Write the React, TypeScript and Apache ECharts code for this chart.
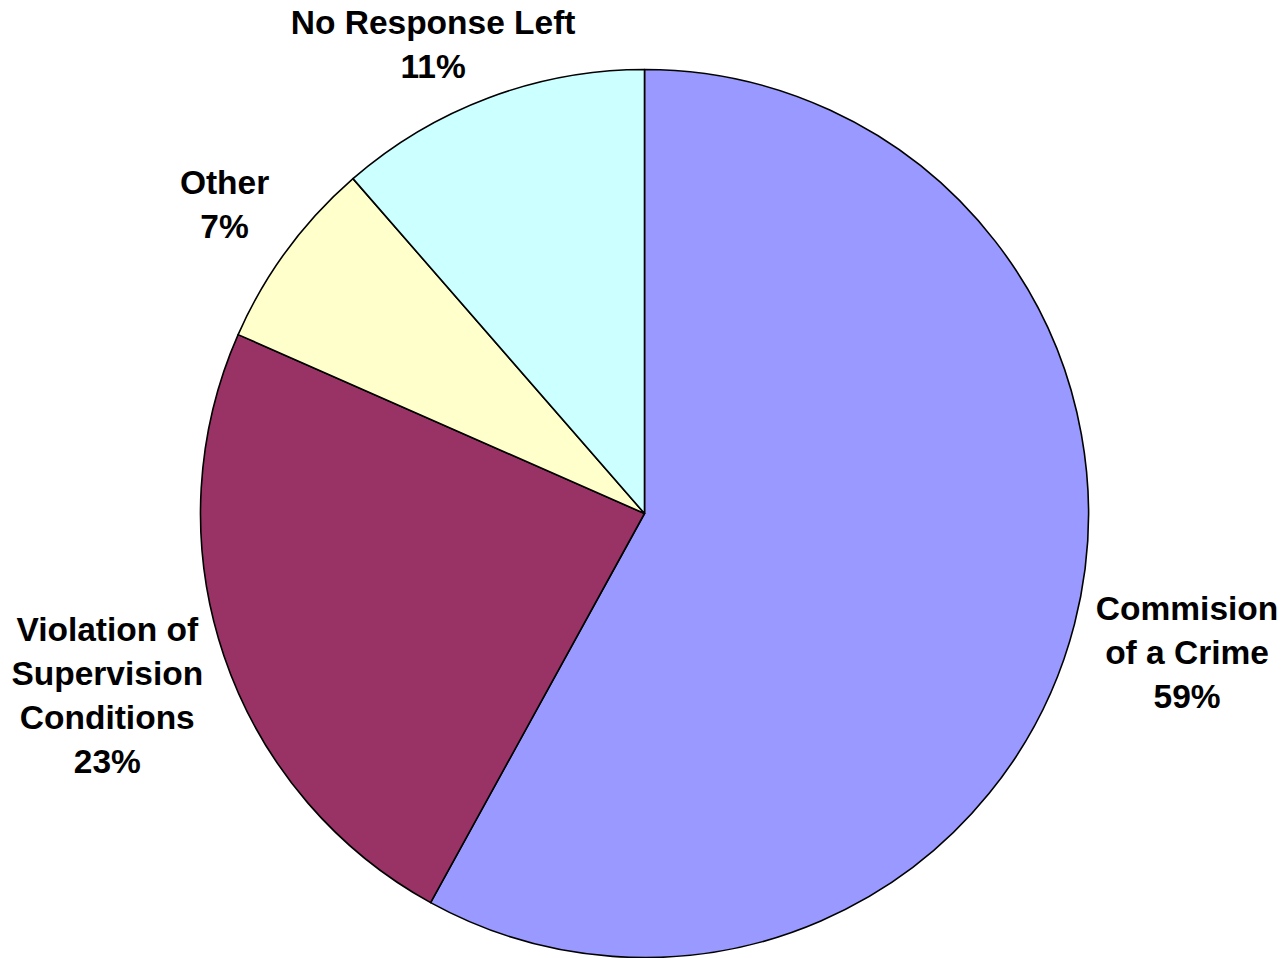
import React, { useEffect, useRef } from 'react';
import * as echarts from 'echarts';

// ---- data ----
const categories = ['Commision\nof a Crime', 'Violation of\nSupervision\nConditions', 'Other', 'No Response Left'];
const sliceShares = [58.0, 23.6, 7.0, 11.4]; // measured slice sizes (percent of circle)
const percentLabels = ['59%', '23%', '7%', '11%']; // printed label values
const sliceColors = ['#9999FF', '#993366', '#FFFFCC', '#CCFFFF'];

// ---- layout ----
const W = 1287;
const H = 958;
const CX = 644.5;
const CY = 513.5;
const R = 444;
const GAP = 22;

function midAngles(): number[] {
  const total = sliceShares.reduce((a, b) => a + b, 0);
  let acc = 0;
  return sliceShares.map((v) => {
    const a = ((acc + v / 2) / total) * Math.PI * 2;
    acc += v;
    return a;
  });
}

function placeLabel(phi: number, w: number, h: number) {
  const dx = Math.sin(phi);
  const dy = -Math.cos(phi);
  const sx = Math.abs(dx) > 1e-6 ? w / 2 / Math.abs(dx) : Infinity;
  const sy = Math.abs(dy) > 1e-6 ? h / 2 / Math.abs(dy) : Infinity;
  const t = R + GAP + Math.min(sx, sy);
  return { x: CX + dx * t, y: CY + dy * t };
}

export default function App() {
  const ref = useRef<HTMLDivElement>(null);
  useEffect(() => {
    if (!ref.current) return;
    const chart = echarts.init(ref.current, undefined, { renderer: 'svg' });
    const mids = midAngles();
    chart.setOption({
      animation: false,
      backgroundColor: '#ffffff',
      series: [
        {
          type: 'pie',
          radius: R,
          center: [CX, CY],
          startAngle: 90,
          clockwise: true,
          avoidLabelOverlap: false,
          emphasis: { scale: false },
          data: categories.map((name, i) => ({
            name,
            value: sliceShares[i],
            itemStyle: { color: sliceColors[i] },
          })),
          itemStyle: { borderColor: '#000000', borderWidth: 1.6 },
          label: {
            show: true,
            position: 'outside',
            formatter: (p: any) => `${p.name}\n${percentLabels[p.dataIndex]}`,
            fontFamily: '"Liberation Sans", Arial, sans-serif',
            fontWeight: 'bold',
            fontSize: 33.5,
            lineHeight: 44,
            color: '#000000',
            align: 'center',
          },
          labelLine: { show: false },
          labelLayout: (params: any) => {
            const i = params.dataIndex;
            const w = params.labelRect.width;
            const h = params.labelRect.height;
            let phi = mids[i];
            let p = placeLabel(phi, w, h);
            const fits = (q: { x: number; y: number }) =>
              q.x - w / 2 >= 0 && q.x + w / 2 <= W && q.y - h / 2 >= 0 && q.y + h / 2 <= H;
            const target = Math.sin(phi) >= 0 ? Math.PI / 2 : (3 * Math.PI) / 2;
            let iter = 0;
            while (!fits(p) && iter < 360) {
              phi += Math.sign(target - phi) * (Math.PI / 720);
              p = placeLabel(phi, w, h);
              iter++;
            }
            return { x: p.x, y: p.y, align: 'center', verticalAlign: 'middle' };
          },
        },
      ],
    });
    return () => chart.dispose();
  }, []);
  return (
    <div
      ref={ref}
      style={{ position: 'fixed', left: 0, top: 0, width: W, height: H, background: '#fff' }}
    />
  );
}
